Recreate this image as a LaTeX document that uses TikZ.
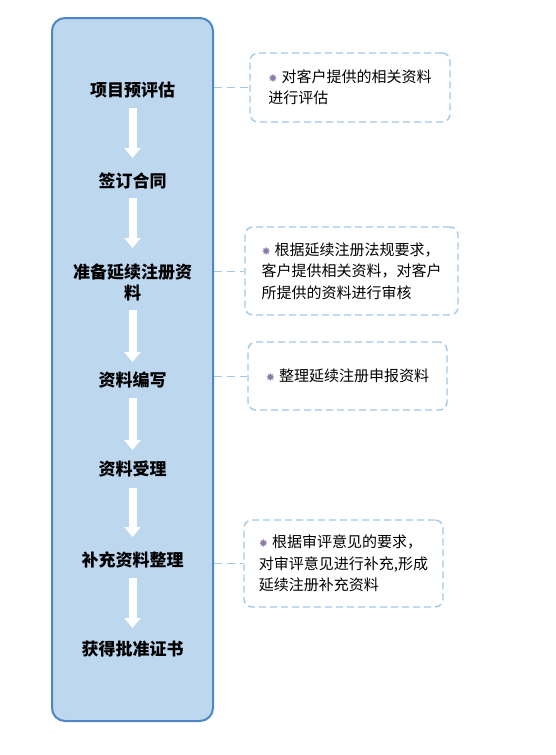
\documentclass[tikz,border=0pt]{standalone}
\usepackage{fontspec}
\setmainfont{Noto Sans CJK SC}
\newfontfamily\symfont{DejaVu Sans}
\usetikzlibrary{arrows.meta}
\definecolor{panelFill}{HTML}{BDD7EE}
\definecolor{panelLine}{HTML}{4F86C6}
\definecolor{noteLine}{HTML}{A4C8EA}
\definecolor{starColor}{HTML}{8C7BA6}
\newcommand{\notestar}{{\symfont\fontsize{11}{11}\selectfont\textcolor{starColor}{✸}}\hspace{4pt}}

\begin{document}
\begin{tikzpicture}
[x=1pt,y=-1pt,
  panelBox/.style={draw=panelLine,line width=2pt,fill=panelFill,rounded corners=13pt,
    minimum width=161pt,minimum height=703pt},
  stepText/.style={font=\fontsize{17}{21}\selectfont\bfseries,align=center,text=black},
  noteBox/.style={draw=noteLine,line width=1.4pt,dash pattern=on 7pt off 4pt,
    rounded corners=8pt,align=left,font=\fontsize{15}{21.5}\selectfont,text=black},
  flowArrow/.style={draw=white,line width=8pt,-{Triangle[length=10pt,width=16pt]}},
  linkLine/.style={draw=noteLine,line width=1pt,dash pattern=on 8pt off 5pt}]
\fill[white] (0,0) rectangle (555,755);
%% main panel
\node (panel) at (132.5,369.5) [panelBox] {};
%% steps
\foreach \nodename/\y/\txt in {
  s1/90/{项目预评估},
  s2/181/{签订合同},
  s3/282/{准备延续注册资\\料},
  s4/380/{资料编写},
  s5/469/{资料受理},
  s6/560/{补充资料整理},
  s7/649/{获得批准证书}}
{
  \node (\nodename) at (132.5,\y) [stepText] {\txt};
}
%% arrows between steps
\foreach \startnode/\endnode/\gapA/\gapB in {
  s1/s2/18/23, s2/s3/17/34, s3/s4/28/18, s4/s5/18/19, s5/s6/19/23, s6/s7/18/21}
{
  \draw[flowArrow,shorten <=\gapA pt,shorten >=\gapB pt] (\startnode.center) -- (\endnode.center);
}
%% notes
\node (n1) at (350,87.5) [noteBox,minimum width=200pt,minimum height=69pt]
  {\notestar 对客户提供的相关资料\\进行评估};
\node (n2) at (351.5,271) [noteBox,minimum width=213pt,minimum height=88pt]
  {\notestar 根据延续注册法规要求，\\客户提供相关资料，对客户\\所提供的资料进行审核};
\node (n3) at (347.5,376) [noteBox,minimum width=199pt,minimum height=68pt]
  {\notestar 整理延续注册申报资料};
\node (n4) at (343.5,563.5) [noteBox,minimum width=199pt,minimum height=87pt]
  {\notestar 根据审评意见的要求，\\对审评意见进行补充,形成\\延续注册补充资料};
%% links
\foreach \notename in {n1,n2,n3,n4}
{
  \draw[linkLine] (\notename.west -| panel.east) -- (\notename.west);
}
\end{tikzpicture}
\end{document}
